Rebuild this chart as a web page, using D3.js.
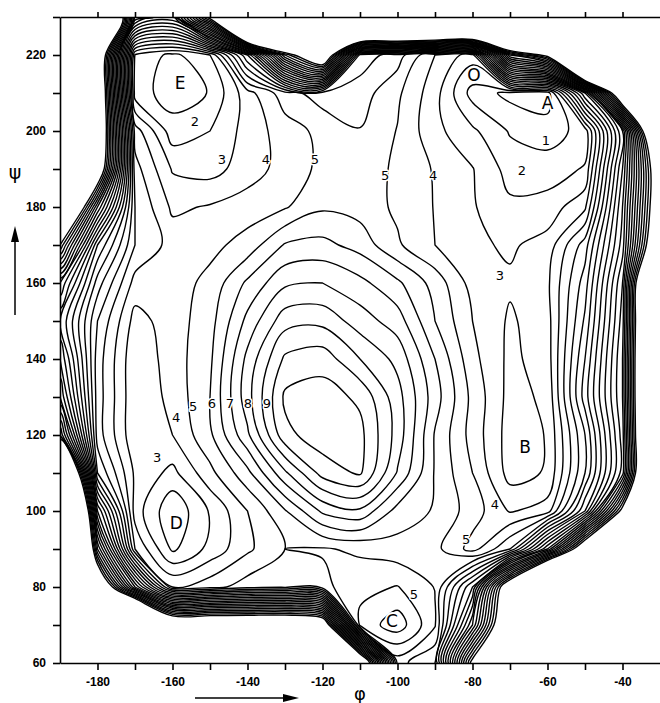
<!DOCTYPE html>
<html>
<head>
<meta charset="utf-8">
<script src="https://cdn.jsdelivr.net/npm/d3@7"></script>
<style>
  body { margin: 0; background: #fff; }
  svg { display: block; }
  .axis path, .axis line { stroke: #000; stroke-width: 1.6; }
  .axis text { font-family: "Liberation Sans Narrow", "Liberation Sans", Arial, sans-serif; font-weight: bold; font-size: 12px; fill: #000; }
</style>
</head>
<body>
<svg id="chart" width="660" height="703"></svg>
<script>
// Chart frame, in degrees
const PHI_MIN = -190, PHI_MAX = -30;
const PSI_MIN = 60, PSI_MAX = 230;
const GRID_STEP = 10;
const MARGIN = { left: 60, top: 17, right: 0, bottom: 40 };

const phiTicks = [-180, -160, -140, -120, -100, -80, -60, -40];
const psiTicks = [60, 80, 100, 120, 140, 160, 180, 200, 220];
const contourLevels = d3.range(0, 25);   // 0 ... 24

// Relative energy every 10 degrees.
// One row per psi (230 at the top down to 60), one column per phi (-190 ... -30).
const energyRows = [
  [55, 45, 14, 12, 25, 55, 55, 55, 55, 55, 55, 55, 55, 55, 55, 55, 55],
  [55, 30, 1.9, 0.7, 2.0, 9, 22, 30, 7.6, 6.5, 4.0, 2.5, 20, 25, 55, 55, 55],
  [55, 30, 1.5, 0.5, 1.05, 3.6, 5.6, 6.5, 6.5, 5.2, 3.4, 0.6, -0.3, -0.6, 9, 30, 55],
  [55, 30, 4.5, 1.45, 2.0, 3.4, 4.5, 5.3, 5.95, 4.95, 3.3, 2.2, 0.9, 0.5, 1.4, 11, 35],
  [45, 28, 5.4, 2.9, 2.6, 3.5, 4.4, 5.25, 5.6, 4.8, 3.9, 3.05, 1.6, 1.5, 2.1, 12, 28],
  [35, 18, 6, 3.8, 4.1, 4.5, 4.9, 5.85, 5.6, 4.8, 3.95, 3.1, 2.2, 2.4, 3.8, 13, 28],
  [24, 11, 6, 4.6, 4.7, 5.4, 7.1, 7.3, 6.6, 5.15, 4.0, 3.2, 2.85, 3.4, 6.5, 13.5, 30],
  [16, 8.5, 4.6, 4.5, 5.3, 7.2, 8.8, 9.0, 8.3, 7.2, 5.6, 3.6, 3.15, 3.8, 7.5, 15, 40],
  [13, 7, 3.6, 4.5, 5.6, 8.3, 10.6, 10.7, 9.5, 8.5, 6.0, 4.0, 2.85, 3.6, 8.2, 15.5, 40],
  [15, 6.5, 3.2, 4.5, 5.8, 9.3, 12.2, 12.6, 11.0, 9.7, 7.0, 4.3, 2.75, 3.5, 9, 16, 40],
  [17, 6.5, 3.2, 4.3, 6.0, 9.6, 13.2, 13.45, 12.8, 10.4, 7.45, 4.7, 2.65, 3.2, 9.5, 16, 40],
  [22, 6.5, 3.2, 4.0, 5.8, 8.8, 12.7, 13.6, 13.3, 10.6, 6.9, 4.6, 2.55, 3.05, 8, 15.5, 40],
  [40, 8, 3.8, 2.7, 4.7, 6.7, 9.8, 12.4, 13.15, 9.9, 6.9, 5.0, 2.6, 3.1, 8.0, 15.5, 40],
  [55, 14, 3.5, 1.2, 3.1, 5.0, 6.9, 9.2, 9.8, 7.6, 6.9, 5.5, 3.9, 4.5, 11, 25, 60],
  [55, 20, 5, 1.8, 3.3, 4.8, 6.0, 5.9, 6.2, 6.6, 6.3, 4.6, 7, 15, 28, 45, 60],
  [55, 30, 15, 5, 5.6, 6.5, 6.8, 6.3, 5.3, 4.95, 6.05, 12, 28, 45, 55, 55, 60],
  [55, 55, 45, 30, 30, 30, 30, 28, 4.7, 3.4, 5.9, 16, 30, 55, 55, 55, 60],
  [55, 55, 55, 55, 55, 55, 55, 45, 30, 6.6, 8, 25, 55, 55, 55, 55, 60]
];

// Named minima
const minimaNames = ["E", "A", "O", "B", "C", "D"];
const minimaPhi = [-158, -60, -79.6, -66, -101.5, -159];
const minimaPsi = [212.6, 207.4, 214.7, 116.8, 71, 96.8];

// Contour level labels written on the map
const levelText = ["2", "3", "4", "5", "5", "4", "1", "2", "3", "3", "4", "5", "6", "7", "8", "9", "4", "5", "5"];
const levelPhi = [-154, -146.8, -135.1, -122, -103.3, -90.5, -60.4, -66.8, -72.7, -164.1, -159, -154.5, -149.5, -144.7, -139.9, -134.8, -74, -81.7, -95.6];
const levelPsi = [202.4, 192.4, 192.4, 192.4, 188.4, 188.4, 197.6, 189.7, 162.1, 114.2, 124.7, 127.4, 128.4, 128.4, 128.4, 128.4, 101.6, 92.4, 77.9];

const svg = d3.select("#chart");
const width = +svg.attr("width");
const height = +svg.attr("height");

const x = d3.scaleLinear().domain([PHI_MIN, PHI_MAX]).range([MARGIN.left, width - MARGIN.right]);
const y = d3.scaleLinear().domain([PSI_MIN, PSI_MAX]).range([height - MARGIN.bottom, MARGIN.top]);

svg.append("defs").append("clipPath").attr("id", "plot-clip")
  .append("rect")
  .attr("x", x(PHI_MIN)).attr("y", y(PSI_MAX))
  .attr("width", x(PHI_MAX) - x(PHI_MIN))
  .attr("height", y(PSI_MIN) - y(PSI_MAX));

// Contours
const nx = energyRows[0].length;
const ny = energyRows.length;
const values = energyRows.slice().reverse().flat();
const contours = d3.contours().size([nx, ny]).thresholds(contourLevels)(values);

// grid coordinate -> pixel (d3.contours puts sample i at i + 0.5)
const gx = g => x(PHI_MIN + (g - 0.5) * GRID_STEP);
const gy = g => y(PSI_MIN + (g - 0.5) * GRID_STEP);

const ringLine = d3.line()
  .x(p => gx(p[0]))
  .y(p => gy(p[1]))
  .curve(d3.curveCatmullRomClosed.alpha(0.5));

const rings = [];
contours.forEach(c => {
  c.coordinates.forEach(poly => {
    poly.forEach(ring => rings.push(ring.slice(0, -1)));
  });
});

svg.append("g")
  .attr("clip-path", "url(#plot-clip)")
  .selectAll("path")
  .data(rings)
  .join("path")
  .attr("d", ringLine)
  .attr("fill", "none")
  .attr("stroke", "#000")
  .attr("stroke-width", 1.4)
  .attr("stroke-linejoin", "round");

// Labels on the map
const labelGroup = svg.append("g")
  .attr("font-family", "'DejaVu Sans', 'Liberation Sans', sans-serif")
  .attr("text-anchor", "middle")
  .attr("dominant-baseline", "central")
  .style("paint-order", "stroke")
  .attr("stroke", "#fff")
  .attr("stroke-linejoin", "round");

labelGroup.selectAll("text.min")
  .data(minimaNames)
  .join("text")
  .attr("class", "min")
  .attr("x", (d, i) => x(minimaPhi[i]))
  .attr("y", (d, i) => y(minimaPsi[i]))
  .attr("font-size", 17)
  .attr("stroke-width", 4)
  .text(d => d);

labelGroup.selectAll("text.lev")
  .data(levelText)
  .join("text")
  .attr("class", "lev")
  .attr("x", (d, i) => x(levelPhi[i]))
  .attr("y", (d, i) => y(levelPsi[i]))
  .attr("font-size", 13)
  .attr("stroke-width", 3)
  .text(d => d);

// Axes
const psiMinor = d3.range(PSI_MIN, PSI_MAX + 1, 10);
const phiMinor = d3.range(-180, PHI_MAX, 10);

svg.append("g")
  .attr("class", "axis")
  .attr("transform", `translate(0,${y(PSI_MIN)})`)
  .call(d3.axisBottom(x).tickValues(phiMinor).tickSize(7).tickSizeOuter(0).tickPadding(7)
    .tickFormat(d => phiTicks.includes(d) ? d : ""));

svg.append("g")
  .attr("class", "axis")
  .attr("transform", `translate(0,${y(PSI_MAX)})`)
  .call(d3.axisTop(x).tickValues(phiMinor).tickSize(5).tickSizeOuter(0).tickFormat(""));

svg.append("g")
  .attr("class", "axis")
  .attr("transform", `translate(${x(PHI_MIN)},0)`)
  .call(d3.axisLeft(y).tickValues(psiMinor).tickSize(7).tickSizeOuter(0).tickPadding(7)
    .tickFormat(d => psiTicks.includes(d) ? d : ""));

// Axis names with arrows
const greek = svg.append("g").attr("font-family", "'DejaVu Sans', sans-serif").attr("fill", "#000");
greek.append("text").attr("x", 15).attr("y", 179).attr("text-anchor", "middle")
  .attr("font-size", 19).text("ψ");
greek.append("text").attr("x", 360).attr("y", 700).attr("text-anchor", "middle")
  .attr("font-size", 18).text("φ");

svg.append("line").attr("x1", 15).attr("y1", 315).attr("x2", 15).attr("y2", 240)
  .attr("stroke", "#000").attr("stroke-width", 1.5);
svg.append("path").attr("d", "M15,226 L11,242 L19,242 Z").attr("fill", "#000");

svg.append("line").attr("x1", 195).attr("y1", 698).attr("x2", 285).attr("y2", 698)
  .attr("stroke", "#000").attr("stroke-width", 1.5);
svg.append("path").attr("d", "M299,698 L283,694 L283,702 Z").attr("fill", "#000");
</script>
</body>
</html>
